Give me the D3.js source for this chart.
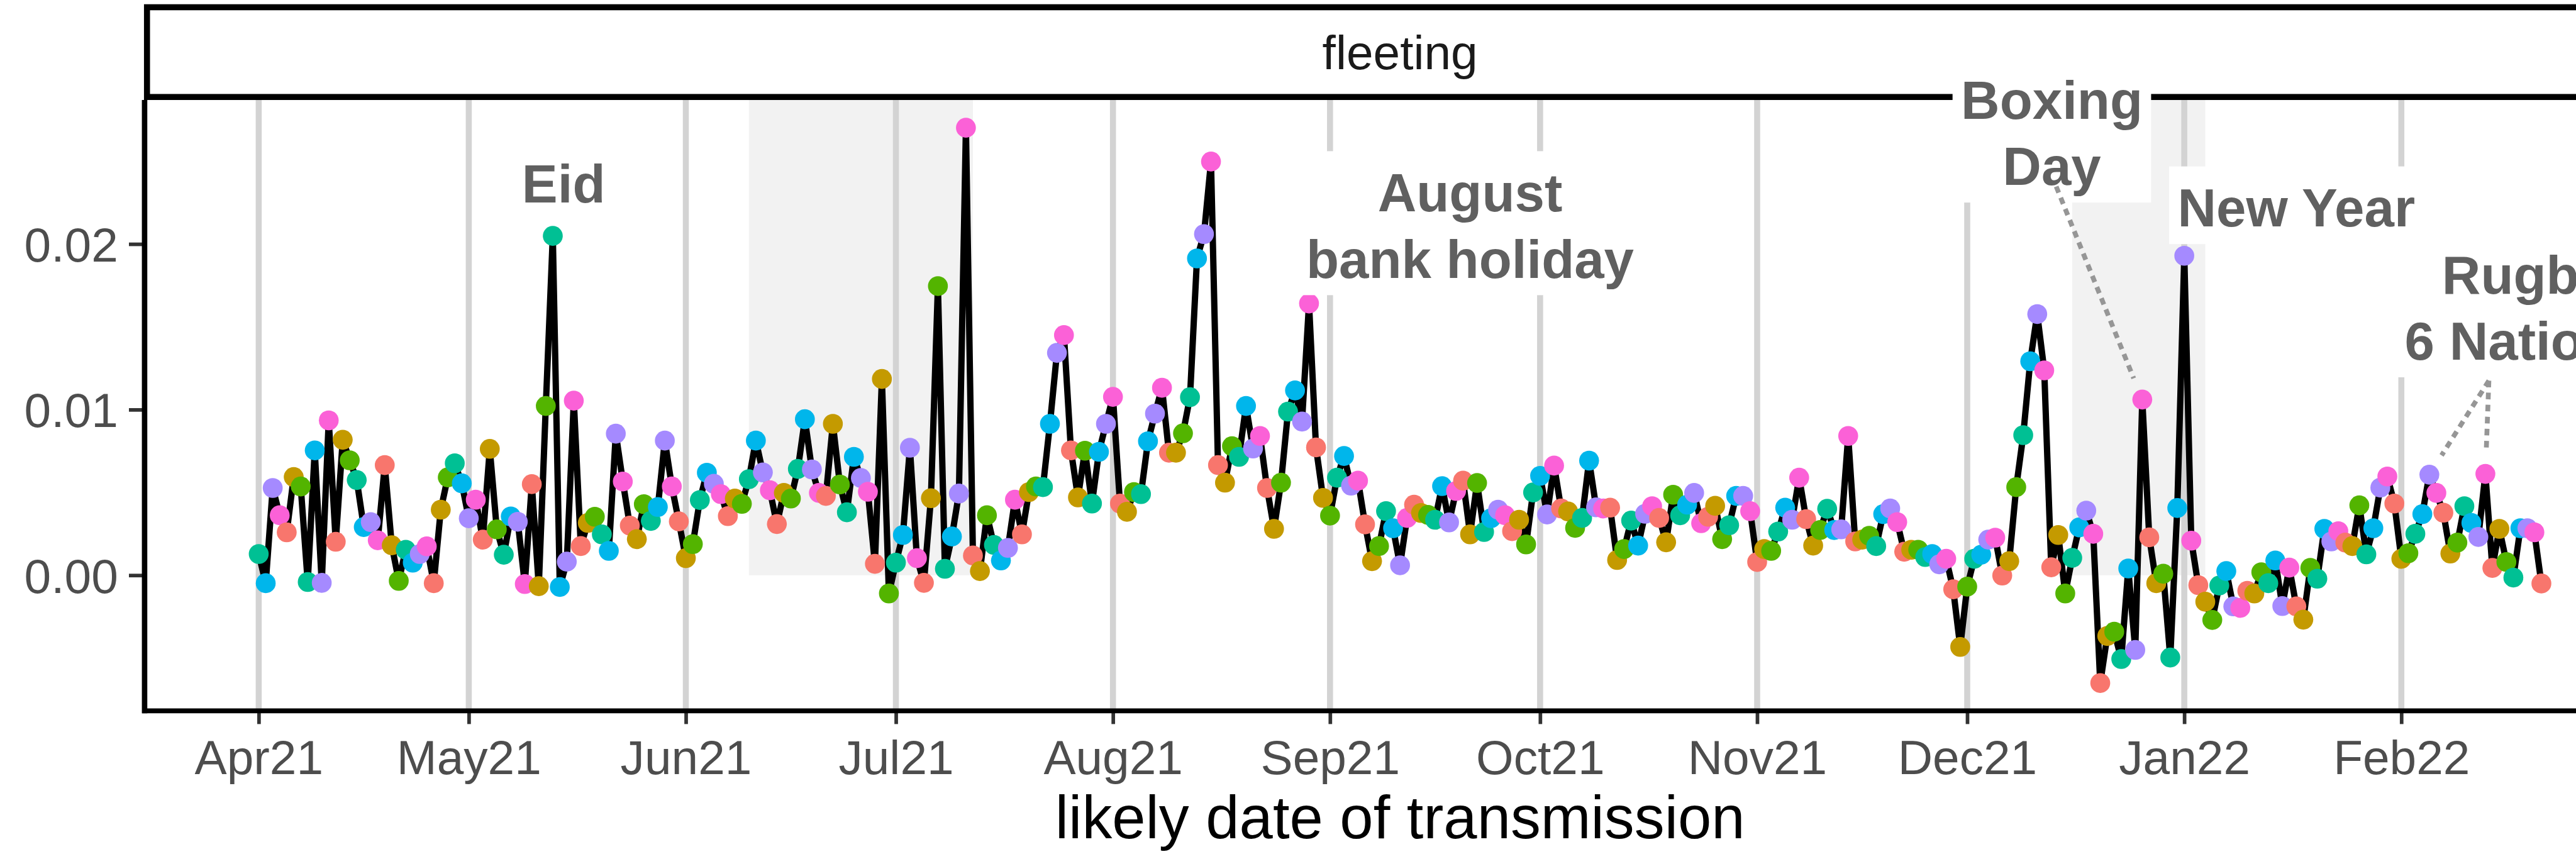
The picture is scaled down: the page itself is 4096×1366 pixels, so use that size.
<!DOCTYPE html>
<html>
<head>
<meta charset="utf-8">
<script src="https://cdn.jsdelivr.net/npm/d3@7"></script>
<style>
  html, body { margin: 0; padding: 0; background: #fff; overflow: hidden; }
  text { font-family: "Liberation Sans", Arial, Helvetica, sans-serif; }
</style>
</head>
<body>
<svg id="chart"></svg>
<script>
// daily values, one array per month, first value is 1 Apr 2021
const startDate = "2021-04-01";
const apr21 = [0.00128,-0.00048,0.00527,0.00362,0.00259,0.00593,0.00536,-0.00041,0.00754,-0.00046,
  0.00935,0.00202,0.00818,0.00694,0.00575,0.00291,0.00321,0.00211,0.00665,0.00181,
  -0.00034,0.00154,0.00076,0.00128,0.00174,-0.00048,0.00396,0.00591,0.00676,0.00555];
const may21 = [0.00344,0.00456,0.00215,0.00763,0.00277,0.00124,0.00355,0.00323,-0.00053,0.00550,
  -0.00066,0.01022,0.02049,-0.00071,0.00082,0.01054,0.00176,0.00316,0.00353,0.00247,
  0.00147,0.00855,0.00566,0.00300,0.00218,0.00429,0.00328,0.00412,0.00813,0.00536,0.00325];
const jun21 = [0.00103,0.00188,0.00454,0.00619,0.00552,0.00490,0.00357,0.00463,0.00431,0.00580,
  0.00813,0.00621,0.00513,0.00309,0.00497,0.00463,0.00642,0.00942,0.00639,0.00497,
  0.00479,0.00914,0.00548,0.00380,0.00715,0.00587,0.00504,0.00069,0.01185,-0.00110];
const jul21 = [0.00076,0.00243,0.00770,0.00103,-0.00046,0.00465,0.01746,0.00039,0.00234,0.00493,
  0.02702,0.00119,0.00025,0.00362,0.00183,0.00089,0.00165,0.00456,0.00247,0.00502,
  0.00536,0.00532,0.00914,0.01343,0.01450,0.00754,0.00470,0.00752,0.00433,0.00745,0.00914];
const aug21 = [0.01077,0.00433,0.00383,0.00502,0.00490,0.00809,0.00976,0.01132,0.00740,0.00740,
  0.00857,0.01075,0.01913,0.02060,0.02498,0.00665,0.00559,0.00779,0.00715,0.01022,
  0.00765,0.00841,0.00527,0.00280,0.00559,0.00988,0.01116,0.00928,0.01641,0.00772,0.00467];
const sep21 = [0.00360,0.00589,0.00720,0.00541,0.00571,0.00307,0.00085,0.00176,0.00387,0.00284,
  0.00060,0.00346,0.00426,0.00376,0.00364,0.00335,0.00538,0.00319,0.00509,0.00571,
  0.00247,0.00557,0.00261,0.00344,0.00396,0.00362,0.00266,0.00335,0.00186,0.00500];
const oct21 = [0.00600,0.00367,0.00662,0.00403,0.00385,0.00286,0.00346,0.00692,0.00410,0.00403,
  0.00408,0.00092,0.00158,0.00330,0.00179,0.00371,0.00417,0.00346,0.00199,0.00486,
  0.00362,0.00426,0.00497,0.00314,0.00353,0.00419,0.00218,0.00302,0.00479,0.00479,0.00387];
const nov21 = [0.00080,0.00158,0.00147,0.00264,0.00408,0.00335,0.00589,0.00339,0.00179,0.00273,
  0.00401,0.00273,0.00277,0.00841,0.00204,0.00215,0.00238,0.00176,0.00369,0.00403,
  0.00321,0.00142,0.00154,0.00154,0.00110,0.00128,0.00066,0.00099,-0.00085,-0.00433];
const dec21 = [-0.00069,0.00099,0.00124,0.00215,0.00227,-0.00002,0.00085,0.00532,0.00846,0.01292,
  0.01577,0.01237,0.00048,0.00243,-0.00110,0.00105,0.00289,0.00390,0.00250,-0.00651,
  -0.00367,-0.00341,-0.00506,0.00041,-0.00451,0.01061,0.00229,-0.00048,0.00009,-0.00497,0.00406];
const jan22 = [0.01929,0.00209,-0.00060,-0.00160,-0.00270,-0.00062,0.00025,-0.00188,-0.00197,-0.00094,
  -0.00110,0.00018,-0.00048,0.00089,-0.00186,0.00046,-0.00188,-0.00268,0.00044,-0.00021,
  0.00280,0.00204,0.00266,0.00197,0.00176,0.00422,0.00126,0.00284,0.00529,0.00596,0.00433];
const feb22 = [0.00099,0.00133,0.00250,0.00369,0.00607,0.00497,0.00378,0.00131,0.00197,0.00417,
  0.00316,0.00231,0.00612,0.00044,0.00280,0.00080,-0.00014,0.00284,0.00284,0.00259,-0.00050];

const weekdays = ["Mon","Tue","Wed","Thu","Fri","Sat","Sun"];
const weekdayColours = ["#F8766D","#C49A00","#53B400","#00C094","#00B6EB","#A58AFF","#FB61D7"];

const monthTicks = ["2021-04-01","2021-05-01","2021-06-01","2021-07-01","2021-08-01","2021-09-01",
  "2021-10-01","2021-11-01","2021-12-01","2022-01-01","2022-02-01"];
const yTicks = [0, 0.01, 0.02];

// grey background periods (Euro 2020, Christmas)
const shadedPeriods = [
  {start: "2021-06-10", end: "2021-07-12"},
  {start: "2021-12-16", end: "2022-01-04"}
];

// event labels: centre of the label, optional leader lines to points
const events = [
  {lines: ["Eid"], at: "2021-05-14T13:00", value: 0.02381, from: null, targets: []},
  {lines: ["August", "bank holiday"], at: "2021-09-21T00:00", value: 0.02126, from: null, targets: []},
  {lines: ["Boxing", "Day"], at: "2021-12-13T02:00", value: 0.02685,
    from: {at: "2021-12-13T17:00", value: 0.02347}, targets: ["2021-12-26"]},
  {lines: ["New Year"], at: "2022-01-17T00:00", value: 0.02234, from: null, targets: []},
  {lines: ["Rugby", "6 Nations"], at: "2022-02-18T17:00", value: 0.0163,
    from: {at: "2022-02-13T12:00", value: 0.01175}, targets: ["2022-02-05", "2022-02-13"]}
];

const stripLabel = "fleeting";
const xTitle = "likely date of transmission";

// ---------------------------------------------------------------
const W = 4276, H = 1426;
const panel = {left: 240, right: 4408, top: 166, bottom: 1180};

const parseDay = d3.utcParse("%Y-%m-%d");
const parseTime = d3.utcParse("%Y-%m-%dT%H:%M");
const fmtTick = d3.utcFormat("%b%y");
const fmtDay = d3.utcFormat("%a");

const values = [].concat(apr21, may21, jun21, jul21, aug21, sep21, oct21, nov21, dec21, jan22, feb22);
const first = parseDay(startDate);
const data = values.map((v, i) => ({date: d3.utcDay.offset(first, i), value: v}));

const colour = d3.scaleOrdinal().domain(weekdays).range(weekdayColours);

// ggplot style 5% expansion
const tExt = d3.extent(data, d => d.date);
const tPad = (tExt[1] - tExt[0]) * 0.05;
const x = d3.scaleUtc()
  .domain([new Date(+tExt[0] - tPad), new Date(+tExt[1] + tPad)])
  .range([panel.left, panel.right]);

const vExt = d3.extent(data, d => d.value);
const vPad = (vExt[1] - vExt[0]) * 0.05;
const y = d3.scaleLinear()
  .domain([vExt[0] - vPad, vExt[1] + vPad])
  .range([panel.bottom, panel.top]);

const svg = d3.select("#chart")
  .attr("width", 4096)
  .attr("height", 1366)
  .attr("viewBox", "0 0 " + W + " " + H);

svg.append("rect").attr("width", W).attr("height", H).attr("fill", "#fff");

// shaded periods
svg.append("g")
  .selectAll("rect")
  .data(shadedPeriods)
  .enter().append("rect")
    .attr("x", d => x(parseDay(d.start)))
    .attr("width", d => x(parseDay(d.end)) - x(parseDay(d.start)))
    .attr("y", panel.top)
    .attr("height", y(0) - panel.top)
    .attr("fill", "#F2F2F2");

// vertical grid
svg.append("g")
  .selectAll("line")
  .data(monthTicks)
  .enter().append("line")
    .attr("x1", d => x(parseDay(d)))
    .attr("x2", d => x(parseDay(d)))
    .attr("y1", panel.top)
    .attr("y2", panel.bottom)
    .attr("stroke", "#D3D3D3")
    .attr("stroke-width", 10);

// series
const line = d3.line()
  .x(d => x(d.date))
  .y(d => y(d.value));

svg.append("path")
  .datum(data)
  .attr("d", line)
  .attr("fill", "none")
  .attr("stroke", "#000")
  .attr("stroke-width", 10.5)
  .attr("stroke-linejoin", "round");

svg.append("g")
  .selectAll("circle")
  .data(data)
  .enter().append("circle")
    .attr("cx", d => x(d.date))
    .attr("cy", d => y(d.value))
    .attr("r", 16.5)
    .attr("fill", d => colour(fmtDay(d.date)));

// axes
const yAxis = svg.append("g")
  .attr("transform", "translate(" + panel.left + ",0)")
  .call(d3.axisLeft(y).tickValues(yTicks).tickFormat(d3.format(".2f")).tickSize(26).tickPadding(18));
const xAxis = svg.append("g")
  .attr("transform", "translate(0," + panel.bottom + ")")
  .call(d3.axisBottom(x).tickValues(monthTicks.map(parseDay)).tickFormat(fmtTick).tickSize(22).tickPadding(26));

[yAxis, xAxis].forEach(function(ax) {
  ax.select(".domain").remove();
  ax.selectAll(".tick line").attr("stroke", "#333333").attr("stroke-width", 6);
  ax.selectAll(".tick text")
    .attr("fill", "#4D4D4D")
    .style("font-size", "80px")
    .style("font-family", "'Liberation Sans', Arial, sans-serif");
});
yAxis.selectAll(".tick text").attr("dy", "0.36em");
xAxis.selectAll(".tick text").attr("dy", "0.72em");

svg.append("line")
  .attr("x1", panel.left).attr("x2", panel.left)
  .attr("y1", panel.top).attr("y2", panel.bottom + 4)
  .attr("stroke", "#000").attr("stroke-width", 9);
svg.append("line")
  .attr("x1", panel.left - 4).attr("x2", panel.right)
  .attr("y1", panel.bottom).attr("y2", panel.bottom)
  .attr("stroke", "#000").attr("stroke-width", 8);

// strip
svg.append("rect")
  .attr("x", panel.left + 4)
  .attr("y", 12)
  .attr("width", panel.right - panel.left)
  .attr("height", 149)
  .attr("fill", "#fff")
  .attr("stroke", "#000")
  .attr("stroke-width", 10);
svg.append("text")
  .attr("x", (panel.left + panel.right) / 2)
  .attr("y", 115)
  .attr("text-anchor", "middle")
  .attr("fill", "#1A1A1A")
  .style("font-size", "80px")
  .text(stripLabel);

// axis title
svg.append("text")
  .attr("x", (panel.left + panel.right) / 2)
  .attr("y", 1392)
  .attr("text-anchor", "middle")
  .attr("fill", "#000")
  .style("font-size", "100px")
  .text(xTitle);

// event labels
const fontSize = 89, lineGap = 110;
const labels = svg.append("g");
events.forEach(function(ev) {
  const cx = x(parseTime(ev.at));
  const cy = y(ev.value);
  const boxH = 129 + lineGap * (ev.lines.length - 1);
  const top = cy - boxH / 2;
  const g = labels.append("g");
  const box = g.append("rect").attr("fill", "#fff");
  const txt = g.selectAll("text")
    .data(ev.lines)
    .enter().append("text")
      .attr("x", cx)
      .attr("y", (d, i) => top + 100 + i * lineGap)
      .attr("text-anchor", "middle")
      .attr("fill", "#606060")
      .style("font-size", fontSize + "px")
      .style("font-weight", "bold")
      .text(d => d);
  let wMax = 0;
  txt.each(function() { wMax = Math.max(wMax, this.getComputedTextLength()); });
  box.attr("x", cx - wMax / 2 - 14)
    .attr("width", wMax + 28)
    .attr("y", top)
    .attr("height", boxH);

  if (ev.from) {
    const sx = x(parseTime(ev.from.at)), sy = y(ev.from.value);
    ev.targets.forEach(function(t) {
      const p = data.find(d => +d.date === +parseDay(t));
      const px = x(p.date), py = y(p.value);
      const len = Math.hypot(px - sx, py - sy);
      const k = (len - 38) / len;
      g.append("line")
        .attr("x1", sx).attr("y1", sy)
        .attr("x2", sx + (px - sx) * k).attr("y2", sy + (py - sy) * k)
        .attr("stroke", "#969696")
        .attr("stroke-width", 8)
        .attr("stroke-dasharray", "11 9");
    });
  }
});
</script>
</body>
</html>
